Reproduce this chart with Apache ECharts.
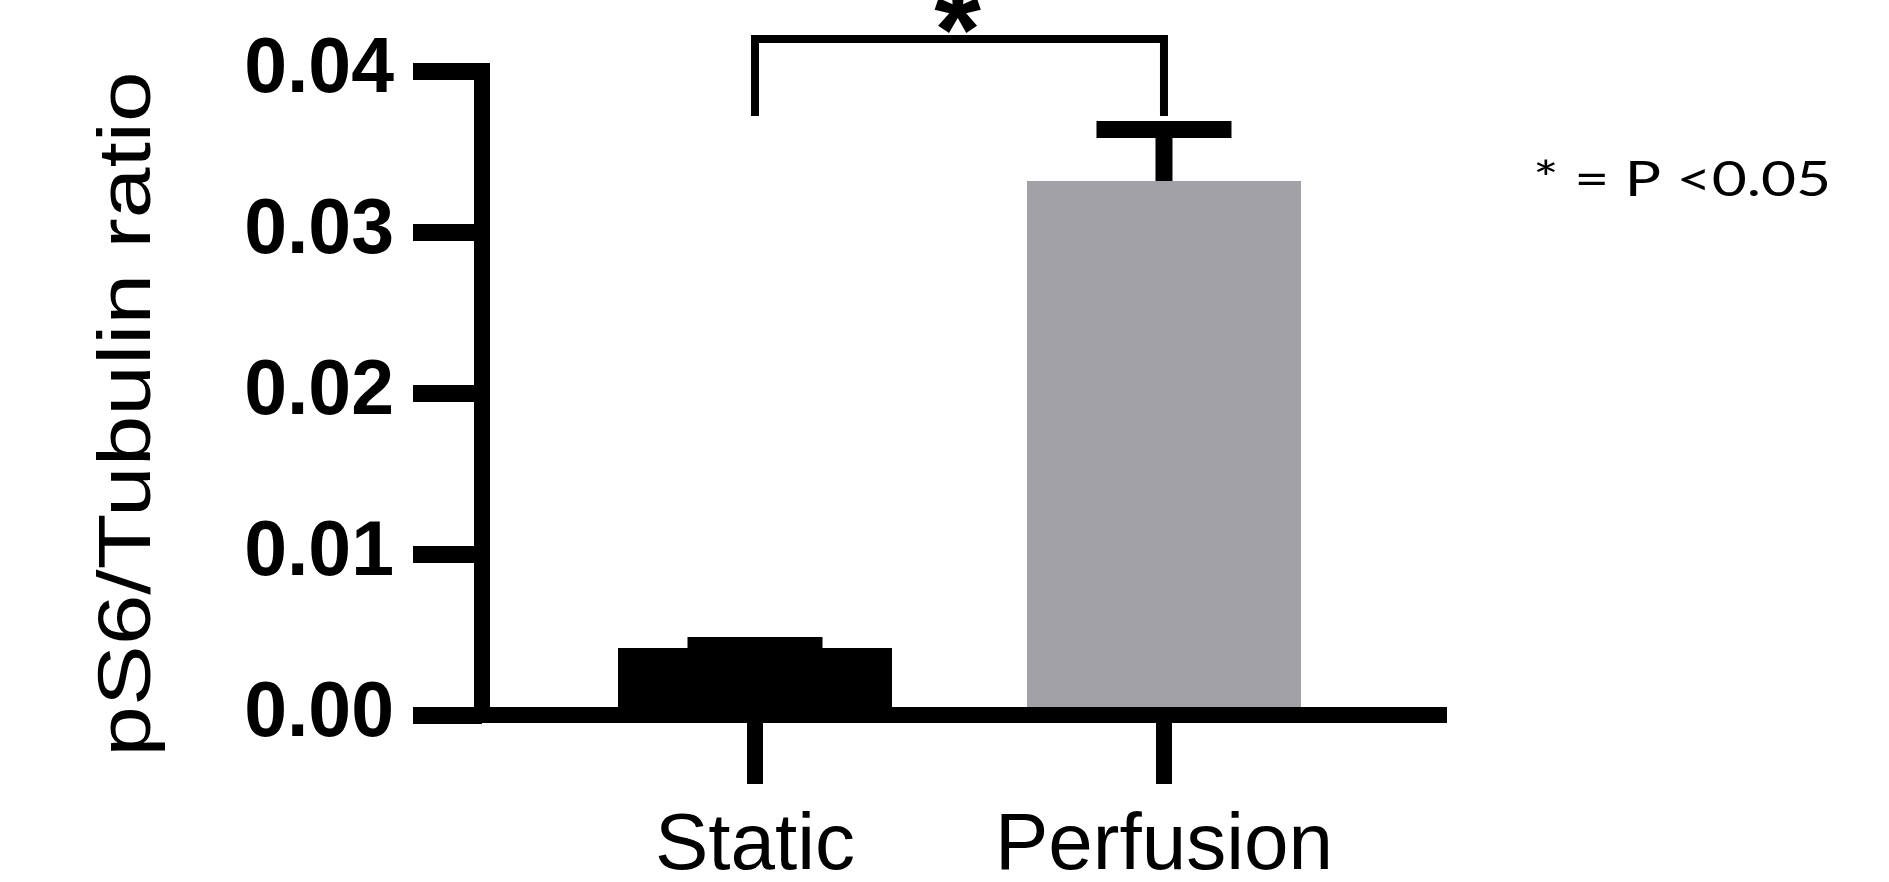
<!DOCTYPE html>
<html><head><meta charset="utf-8">
<script src="https://cdn.jsdelivr.net/npm/echarts@6/dist/echarts.min.js"></script>
<style>html,body{margin:0;padding:0;background:#fff}#c{width:1889px;height:882px}</style>
</head><body><div id="c"></div>
<script>
// ---- data ----
const categories = ['Static', 'Perfusion'];
const categoryPos = [1, 2];
const means = [0.00416, 0.03317];
const sems = [0.00016, 0.0032];
const barColors = ['#000000', '#A2A1A5'];
const yTickValues = [0, 0.01, 0.02, 0.03, 0.04];
const bracketTop = 0.04199;
const bracketEnds = [0.0372, 0.0372];
const sigMark = '*';
const noteText = '* = P <0.05';
const yTitle = 'pS6/Tubulin ratio';

const chart = echarts.init(document.getElementById('c'), null, {renderer: 'canvas'});

const option = {
  animation: false,
  backgroundColor: '#ffffff',
  grid: {left: 482, top: 71, width: 965, height: 644, containLabel: false, outerBoundsMode: 'none'},
  xAxis: {
    type: 'value', min: 0.3325, max: 2.692, z: 10,
    axisLine: {show: true, lineStyle: {color: '#000', width: 16, cap: 'butt'}},
    splitLine: {show: false},
    axisTick: {show: true, customValues: categoryPos, length: 69, lineStyle: {color: '#000', width: 16, cap: 'butt'}},
    axisLabel: {
      customValues: categoryPos,
      formatter: v => categories[categoryPos.indexOf(Math.round(v))],
      fontSize: 80, color: '#000', fontFamily: 'Liberation Sans', margin: 92
    }
  },
  yAxis: {
    type: 'value', min: 0, max: 0.04, interval: 0.01, z: 10,
    axisLine: {show: true, lineStyle: {color: '#000', width: 16, cap: 'square'}},
    splitLine: {show: false},
    axisTick: {show: true, length: 69, lineStyle: {color: '#000', width: 17, cap: 'butt'}},
    axisLabel: {
      formatter: v => v.toFixed(2),
      fontSize: 77, fontWeight: 'bold', color: '#000', fontFamily: 'Liberation Sans', margin: 88
    }
  },
  series: [
    {
      type: 'bar', barWidth: 274, z: 2,
      data: categoryPos.map((x, i) => ({value: [x, means[i]], itemStyle: {color: barColors[i]}}))
    },
    {
      type: 'custom', z: 3, clip: false,
      data: categoryPos.map((x, i) => [x, means[i], means[i] + sems[i]]),
      renderItem: function (params, api) {
        const base = api.coord([api.value(0), api.value(1)]);
        const top = api.coord([api.value(0), api.value(2)]);
        const halfCap = 67.5;
        return {
          type: 'group',
          children: [
            {type: 'line', shape: {x1: base[0], y1: base[1], x2: top[0], y2: top[1]}, style: {stroke: '#000', lineWidth: 17}},
            {type: 'line', shape: {x1: top[0] - halfCap, y1: top[1], x2: top[0] + halfCap, y2: top[1]}, style: {stroke: '#000', lineWidth: 17}}
          ]
        };
      }
    },
    {
      type: 'custom', z: 4, clip: false,
      data: [[categoryPos[0], categoryPos[1], bracketEnds[0], bracketEnds[1], bracketTop]],
      renderItem: function (params, api) {
        const p1 = api.coord([api.value(0), api.value(2)]);
        const p2 = api.coord([api.value(0), api.value(4)]);
        const p3 = api.coord([api.value(1), api.value(4)]);
        const p4 = api.coord([api.value(1), api.value(3)]);
        return {
          type: 'group',
          children: [
            {type: 'polyline', shape: {points: [p1, p2, p3, p4]}, style: {stroke: '#000', lineWidth: 8, fill: null, lineJoin: 'miter'}},
            {type: 'text', x: (p2[0] + p3[0]) / 2 - 2, y: p2[1] + 59,
              style: {text: sigMark, font: 'bold 120px "Liberation Sans"', fill: '#000', align: 'center', verticalAlign: 'bottom'}}
          ]
        };
      }
    }
  ],
  graphic: [
    {type: 'text', x: 129, y: 414, rotation: Math.PI / 2, scaleX: 1.215, scaleY: 1,
      style: {text: yTitle, font: '75px "Liberation Sans"', fill: '#000', align: 'center', verticalAlign: 'middle'}},
    {type: 'text', x: 1533, y: 157, scaleX: 1.26, scaleY: 1,
      style: {text: noteText, font: '48px Lato', fill: '#000', align: 'left', verticalAlign: 'top'}}
  ]
};
chart.setOption(option);
</script></body></html>
